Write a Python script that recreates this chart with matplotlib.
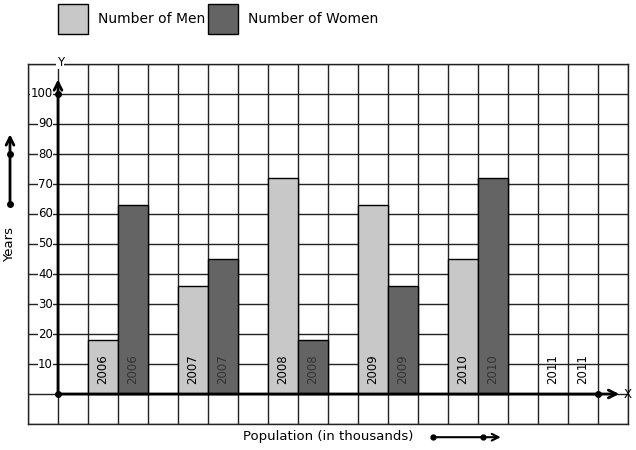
import matplotlib.pyplot as plt
from matplotlib.patches import Rectangle

years = ['2006', '2007', '2008', '2009', '2010', '2011']
men = [18, 36, 72, 63, 45, 0]
women = [63, 45, 18, 36, 72, 0]
y_ticks = [10, 20, 30, 40, 50, 60, 70, 80, 90, 100]

men_color = '#c8c8c8'
women_color = '#646464'
fs = 8.5

fig = plt.figure(figsize=(6.36, 4.5), dpi=100)
ax = fig.add_axes([28 / 636, 26 / 450, 600 / 636, 360 / 450])
ax.set_xlim(-1, 19)
ax.set_ylim(-10, 110)

# grid of cells
ax.set_xticks(range(-1, 20))
ax.set_yticks(range(-10, 111, 10))
ax.tick_params(length=0, labelbottom=False, labelleft=False)
ax.grid(True, color='#222222', lw=1)
ax.set_axisbelow(True)
for s in ax.spines.values():
    s.set_color('#222222')
    s.set_linewidth(1)

# bars
for i, yr in enumerate(years):
    xm = 3 * i + 1
    ax.bar(xm, men[i], width=1, align='edge', color=men_color, edgecolor='black', lw=1, zorder=3)
    ax.bar(xm + 1, women[i], width=1, align='edge', color=women_color, edgecolor='black', lw=1, zorder=3)
    c2 = '#333333' if women[i] > 0 else 'black'
    ax.text(xm + 0.5, 3.5, yr, rotation=90, ha='center', va='bottom', fontsize=fs, color='black', zorder=4)
    ax.text(xm + 1.5, 3.5, yr, rotation=90, ha='center', va='bottom', fontsize=fs, color=c2, zorder=4)

# y tick labels
for v in y_ticks:
    ax.text(-0.17, v, str(v), ha='right', va='center', fontsize=fs, zorder=4,
            bbox=dict(facecolor='white', edgecolor='none', pad=0.3))

# axes with arrows
arrow = dict(arrowstyle='->', lw=2, color='black', mutation_scale=14)
ax.annotate('', xy=(0, 105.8), xytext=(0, 0), arrowprops=arrow, zorder=5)
ax.annotate('', xy=(18.8, 0), xytext=(0, 0), arrowprops=arrow, zorder=5)
ax.plot([0, 0, 18], [0, 100, 0], 'o', color='black', ms=4, zorder=6)
ax.text(18.85, 0, 'X', ha='left', va='center', fontsize=fs, clip_on=False)
ax.text(0.07, 110.6, 'Y', ha='center', va='center', fontsize=fs, clip_on=False,
        bbox=dict(facecolor='white', edgecolor='none', pad=0.5))

# side label with arrow
ax.text(-1.6, 50, 'Years', rotation=90, ha='center', va='center', fontsize=9.5, clip_on=False)
ax.annotate('', xy=(-1.6, 87.5), xytext=(-1.6, 63.3), arrowprops=arrow, annotation_clip=False)
ax.plot([-1.6, -1.6], [63.3, 80], 'o', color='black', ms=4, clip_on=False)

# bottom label with arrow
ax.text(9.0, -14.2, 'Population (in thousands)', ha='center', va='center', fontsize=9.5, clip_on=False)
ax.annotate('', xy=(14.85, -14.4), xytext=(12.5, -14.4), arrowprops=dict(arrowstyle='->', lw=1.5, color='black', mutation_scale=12), annotation_clip=False)
ax.plot([12.5, 14.17], [-14.4, -14.4], 'o', color='black', ms=3.5, clip_on=False)

# legend
ax.add_patch(Rectangle((0, 120), 1, 10, facecolor=men_color, edgecolor='black', lw=1, clip_on=False))
ax.add_patch(Rectangle((5, 120), 1, 10, facecolor=women_color, edgecolor='black', lw=1, clip_on=False))
ax.text(1.33, 125, 'Number of Men', ha='left', va='center', fontsize=10, clip_on=False)
ax.text(6.33, 125, 'Number of Women', ha='left', va='center', fontsize=10, clip_on=False)

fig.savefig('out.png', dpi=100, facecolor='white')
